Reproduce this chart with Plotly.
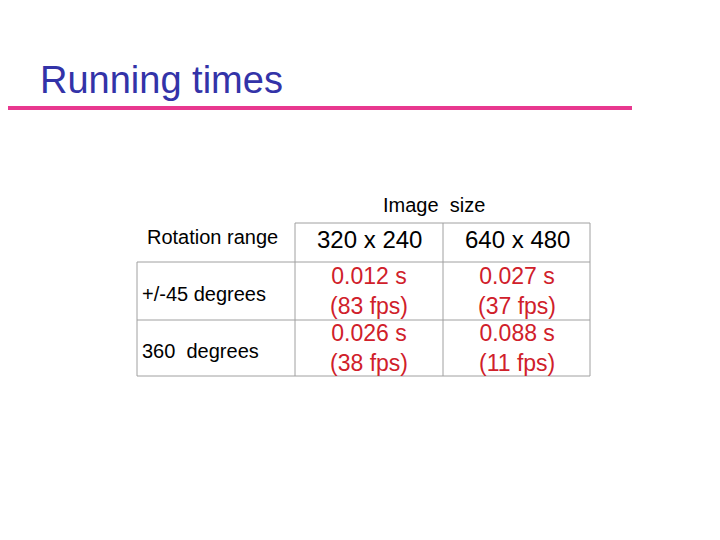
import plotly.graph_objects as go

# table contents
col_labels = ["320 x 240", "640 x 480"]
row_labels = ["+/-45 degrees", "360  degrees"]
times = [[0.012, 0.027], [0.026, 0.088]]
fps = [[83, 37], [38, 11]]

W, H = 720, 540
OFF = 8  # page body margin


def px(x):
    return (x - OFF) / W


def py(y):
    return 1 - (y - OFF) / H


def note(x, y, text, size, color="black", xanchor="center"):
    fig.add_annotation(x=px(x), y=py(y), xref="paper", yref="paper",
                       text=text, showarrow=False, xanchor=xanchor,
                       yanchor="middle", font=dict(size=size, color=color))


fig = go.Figure()
fig.update_layout(width=W, height=H, margin=dict(l=0, r=0, t=0, b=0),
                  paper_bgcolor="white", plot_bgcolor="white",
                  xaxis=dict(visible=False), yaxis=dict(visible=False),
                  font=dict(family="Liberation Sans, Arial", color="black"))

# title + pink rule
note(38, 80, "Running times", 38, "#3333A8", "left")
fig.add_shape(type="line", x0=px(0), x1=px(632), y0=py(108), y1=py(108),
              xref="paper", yref="paper", line=dict(color="#E8388F", width=4))

# grid lines
gray = "#A0A0A0"
lines = [(295, 223, 590, 223), (137, 262, 590, 262), (137, 320, 590, 320),
         (137, 376, 590, 376), (137, 262, 137, 376), (295, 223, 295, 376),
         (443, 223, 443, 376), (590, 223, 590, 376)]
for x0, y0, x1, y1 in lines:
    fig.add_shape(type="line", xref="paper", yref="paper",
                  x0=px(x0), x1=px(x1), y0=py(y0), y1=py(y1),
                  line=dict(color=gray, width=1))

# headers
note(434, 205, "Image  size", 20)
note(212, 237, "Rotation range", 20)
centers = [369, 517]
for cx, lab in zip(centers, col_labels):
    note(cx, 239, lab, 24)

row_y = [291, 348]
for ry, lab in zip(row_y, row_labels):
    note(140, ry + 3, lab, 20, xanchor="left")

for i, ry in enumerate(row_y):
    for j, cx in enumerate(centers):
        note(cx, ry, f"{times[i][j]:.3f} s<br>({fps[i][j]} fps)", 23, "#D0202A")

fig.write_html("out.html")
